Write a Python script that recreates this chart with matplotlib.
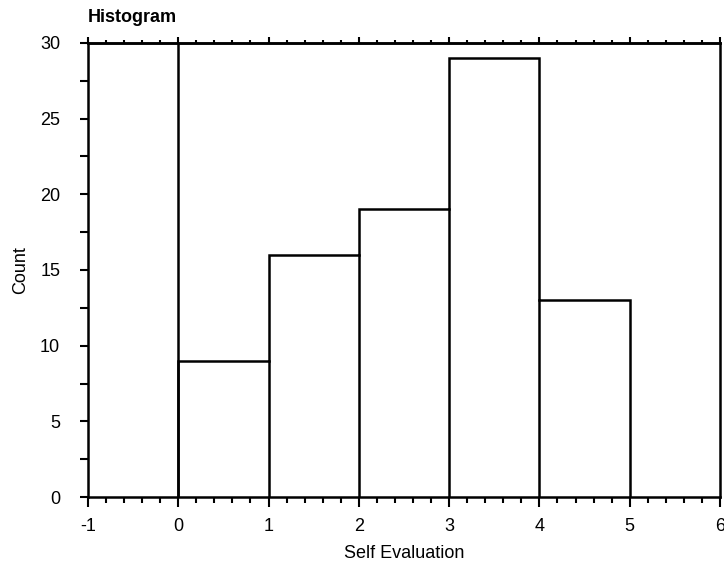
import matplotlib
matplotlib.use('Agg')
import matplotlib.pyplot as plt
from matplotlib.ticker import MultipleLocator

plt.rcParams['font.family'] = ['Liberation Sans', 'DejaVu Sans']
plt.rcParams['axes.unicode_minus'] = False

# bin edges and counts
bin_edges = [0, 1, 2, 3, 4, 5]
counts = [9, 16, 19, 29, 13]

fig = plt.figure(figsize=(7.24, 5.69), dpi=100)
ax = fig.add_axes([0.1215, 0.1265, 0.873, 0.798])

ax.stairs(counts, bin_edges, color='black', linewidth=1.8, fill=False)
# inner bar dividers
for i in range(1, len(counts)):
    ax.plot([bin_edges[i], bin_edges[i]], [0, min(counts[i - 1], counts[i])],
            color='black', linewidth=1.8)
ax.axvline(0, color='black', linewidth=1.8)

ax.set_xlim(-1, 6)
ax.set_ylim(0, 30)
ax.xaxis.set_major_locator(MultipleLocator(1))
ax.xaxis.set_minor_locator(MultipleLocator(0.2))
ax.yaxis.set_major_locator(MultipleLocator(5))
ax.yaxis.set_minor_locator(MultipleLocator(2.5))

for s in ax.spines.values():
    s.set_linewidth(1.8)

ax.tick_params(axis='x', which='both', direction='out', top=False,
               labelsize=13, width=1.5)
ax.tick_params(axis='x', which='major', length=7, pad=8)
ax.tick_params(axis='x', which='minor', length=4)
ax.tick_params(axis='y', which='both', direction='out', right=False,
               labelsize=13, width=1.5)
ax.tick_params(axis='y', which='major', length=6, pad=14)
ax.tick_params(axis='y', which='minor', length=6)

# small ticks along the top edge
top = ax.secondary_xaxis('top')
top.xaxis.set_major_locator(MultipleLocator(1))
top.xaxis.set_minor_locator(MultipleLocator(0.2))
top.tick_params(which='major', length=4, width=1.5, labeltop=False)
top.tick_params(which='minor', length=2, width=1.5)
top.spines['top'].set_linewidth(1.8)

ax.set_xlabel('Self Evaluation', fontsize=13, labelpad=7)
ax.set_ylabel('Count', fontsize=13, labelpad=8)
ax.set_title('Histogram', loc='left', fontsize=13, fontweight='bold', pad=15)

plt.savefig('out.png', dpi=100)
plt.close()
